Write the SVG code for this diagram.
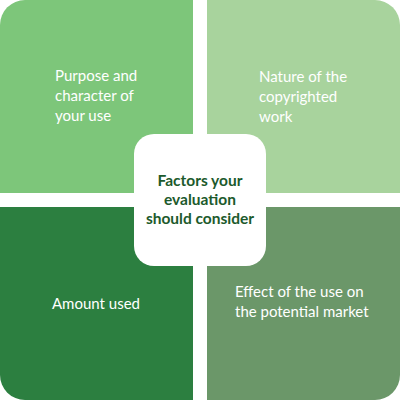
<svg xmlns="http://www.w3.org/2000/svg" width="400" height="400" viewBox="0 0 400 400">
<style>
.q text{font-family:Lato,"Noto Sans","Liberation Sans",sans-serif;font-size:15px;fill:#ffffff}
.c text{font-family:Lato,"Noto Sans","Liberation Sans",sans-serif;font-size:15.5px;font-weight:bold;fill:#1c5a2c;text-anchor:middle}
</style>
<rect width="400" height="400" fill="#ffffff"/>
<g id="tl" class="q">
<path d="M25,0 H193 V193 H0 V25 A25,25 0 0 1 25,0 Z" fill="#7dc67a"/>
<text x="55" y="81">Purpose and</text>
<text x="55" y="101">character of</text>
<text x="55" y="121">your use</text>
</g>
<g id="tr" class="q">
<path d="M207,0 H375 A25,25 0 0 1 400,25 V193 H207 Z" fill="#a8d39d"/>
<text x="259" y="82">Nature of the</text>
<text x="259" y="102">copyrighted</text>
<text x="259" y="122">work</text>
</g>
<g id="bl" class="q">
<path d="M0,207 H193 V400 H25 A25,25 0 0 1 0,375 Z" fill="#2c7f40"/>
<text x="52" y="309">Amount used</text>
</g>
<g id="br" class="q">
<path d="M207,207 H400 V375 A25,25 0 0 1 375,400 H207 Z" fill="#6b9769"/>
<text x="235" y="297">Effect of the use on</text>
<text x="235" y="317">the potential market</text>
</g>
<g id="center" class="c">
<rect x="134" y="134" width="132" height="132" rx="20" ry="20" fill="#ffffff"/>
<text x="200" y="186">Factors your</text>
<text x="200" y="205">evaluation</text>
<text x="200" y="224">should consider</text>
</g>
<g id="connectors"/>
</svg>
